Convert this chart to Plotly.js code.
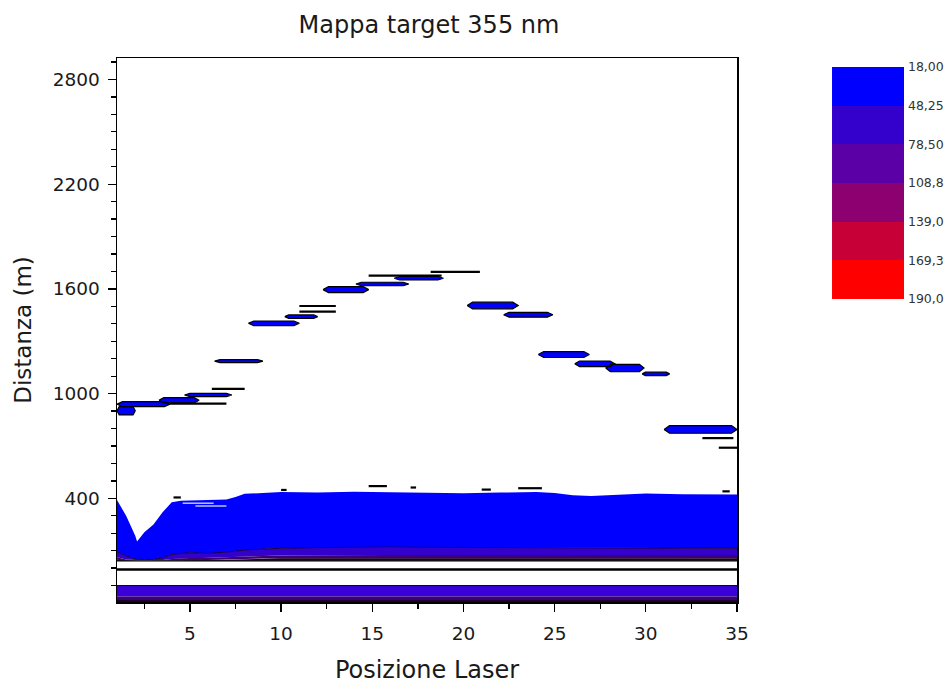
<!DOCTYPE html>
<html>
<head>
<meta charset="utf-8">
<script src="https://cdn.plot.ly/plotly-3.0.1.min.js"></script>
<style>html,body{margin:0;padding:0;background:#fff;}#chart{width:952px;height:685px;}</style>
</head>
<body>
<div id="chart"></div>
<script>
// ---------- colour levels (legend) ----------
const levels = [18.00, 48.25, 78.50, 108.75, 139.00, 169.25, 190.00];
const levelLabels = ['18,00', '48,25', '78,50', '108,8', '139,0', '169,3', '190,0'];
const levelColors = ['#0000FF', '#3300CC', '#5A00A6', '#8C0070', '#C80038', '#FF0000'];

// ---------- main echo region (distance in m vs laser position) ----------
const position    = [1, 1.5, 2, 2.1, 2.5, 3, 3.5, 4, 4.5, 5, 6, 7, 7.5, 8, 9, 10, 12, 14, 16, 18, 20, 22, 24, 25, 26, 27, 28, 30, 32, 35];
const blueTop     = [390, 300, 185, 152, 205, 250, 320, 378, 386, 388, 390, 394, 408, 426, 430, 436, 433, 437, 435, 432, 429, 433, 436, 430, 418, 414, 420, 428, 424, 422];
const blueBottom  = [94, 70, 52, 50, 50, 50, 58, 78, 85, 88, 84, 90, 97, 104, 110, 114, 118, 120, 120, 119, 118, 119, 118, 117, 115, 114, 114, 114, 114, 114];
const midBottom   = [62, 50, 46, 46, 46, 46, 47, 52, 56, 58, 60, 62, 64, 66, 70, 73, 75, 76, 76, 76, 76, 76, 75, 75, 75, 75, 75, 75, 75, 75];
const darkBottom  = [48, 45, 44, 44, 44, 44, 44, 45, 46, 46, 47, 48, 50, 52, 55, 56, 57, 57, 57, 57, 57, 57, 57, 56, 56, 56, 56, 56, 56, 56];
const groundLevel = 42;
const bandColors  = ['#0000FF', '#3300CC', '#3D0078', '#1E0024'];

// lower strata (below the ground line)
const lowerEdges  = [-100, -163, -183, -200];
const lowerColors = ['#3A00D8', '#3D0078', '#1A0028'];
const blackLines  = [-8, -100];
const blackWidths = [2.5, 1];

// ---------- floating echoes ----------
const echoStart = [1.0, 1.0, 3.3, 4.7, 6.35, 8.2, 10.2, 12.3, 14.1, 16.2, 20.2, 22.2, 24.1, 26.1, 27.8, 29.8, 31.0];
const echoEnd   = [2.0, 3.9, 5.5, 7.3, 9.0, 11.0, 12.0, 14.8, 17.0, 18.9, 23.0, 24.9, 26.9, 28.3, 29.9, 31.3, 35.0];
const echoDist  = [902, 940, 962, 992, 1186, 1403, 1441, 1596, 1628, 1661, 1505, 1452, 1224, 1171, 1147, 1113, 795];
const echoHalf  = [24, 14, 15, 9, 9, 13, 10, 17, 10, 10, 19, 14, 17, 16, 21, 10, 22];

const lineStart = [3.9, 6.2, 11.0, 11.0, 14.8, 18.2, 33.1, 34.0, 4.1, 10.0, 14.8, 17.1, 21.0, 23.0, 34.2];
const lineEnd   = [7.0, 8.0, 13.0, 13.0, 18.8, 20.9, 34.8, 35.0, 4.5, 10.3, 15.8, 17.4, 21.5, 24.3, 34.6];
const lineDist  = [943, 1027, 1502, 1470, 1676, 1697, 745, 690, 405, 448, 470, 462, 450, 458, 440];

const streakStart = [4.6, 5.3];
const streakEnd   = [6.3, 7.0];
const streakDist  = [372, 356];

// ---------- build traces ----------
function band(top, bottom, color) {
  return {
    type: 'scatter', mode: 'lines', x: position.concat(position.slice().reverse()),
    y: top.concat(bottom.slice().reverse()), fill: 'toself', fillcolor: color,
    line: {width: 0, color: color}, hoverinfo: 'skip', showlegend: false
  };
}
const traces = [];
const xMin = position[0], xMax = position[position.length - 1];
lowerEdges.slice(0, -1).forEach((e, i) => {
  traces.push({type: 'scatter', mode: 'lines', x: [xMin, xMax, xMax, xMin], y: [e, e, lowerEdges[i + 1], lowerEdges[i + 1]],
    fill: 'toself', fillcolor: lowerColors[i], line: {width: 0}, hoverinfo: 'skip', showlegend: false});
});
const groundArr = position.map(() => groundLevel);
traces.push(band(blueTop, blueBottom, bandColors[0]));
traces.push(band(blueBottom, midBottom, bandColors[1]));
traces.push(band(midBottom, darkBottom, bandColors[2]));
traces.push(band(darkBottom, groundArr, bandColors[3]));
traces.push({type: 'scatter', mode: 'lines', x: position, y: blueBottom, line: {color: '#1a0040', width: 1}, hoverinfo: 'skip', showlegend: false});
traces.push({type: 'scatter', mode: 'lines', x: position, y: groundArr, line: {color: '#000', width: 1.2}, hoverinfo: 'skip', showlegend: false});
blackLines.forEach((d, i) => {
  traces.push({type: 'scatter', mode: 'lines', x: [xMin, xMax], y: [d, d], line: {color: '#000', width: blackWidths[i]}, hoverinfo: 'skip', showlegend: false});
});

// echo polygons (lens shaped)
const ex = [], ey = [];
echoStart.forEach((s, i) => {
  const e = echoEnd[i], d = echoDist[i], h = echoHalf[i];
  const t = Math.min(0.3, (e - s) * 0.12);
  ex.push(s, s + t, e - t, e, e - t, s + t, s, null);
  ey.push(d, d + h, d + h, d, d - h, d - h, d, null);
});
traces.push({type: 'scatter', mode: 'lines', x: ex, y: ey, fill: 'toself', fillcolor: '#0000FF',
  line: {color: '#000', width: 1.2}, hoverinfo: 'skip', showlegend: false});

const lx = [], ly = [];
lineStart.forEach((s, i) => { lx.push(s, lineEnd[i], null); ly.push(lineDist[i], lineDist[i], null); });
traces.push({type: 'scatter', mode: 'lines', x: lx, y: ly, line: {color: '#000', width: 2.2}, hoverinfo: 'skip', showlegend: false});

const sx = [], sy = [];
streakStart.forEach((s, i) => { sx.push(s, streakEnd[i], null); sy.push(streakDist[i], streakDist[i], null); });
traces.push({type: 'scatter', mode: 'lines', x: sx, y: sy, line: {color: '#b8c4ff', width: 1.5}, hoverinfo: 'skip', showlegend: false});

// legend (colour key) as heatmap
const span = levels[levels.length - 1] - levels[0];
const cscale = [];
levelColors.forEach((c, i) => {
  cscale.push([(levels[i] - levels[0]) / span, c]);
  cscale.push([(levels[i + 1] - levels[0]) / span, c]);
});
const keyZ = levelColors.map((c, i) => [(levels[i] + levels[i + 1]) / 2]);
const keyY = levels.map((v, i) => i);
traces.push({type: 'heatmap', x: [0, 1], y: keyY, z: keyZ, colorscale: cscale, zmin: levels[0], zmax: levels[levels.length - 1],
  showscale: false, xaxis: 'x2', yaxis: 'y2', hoverinfo: 'skip'});

const FONT = 'DejaVu Sans, Arial, sans-serif';
const tickFont = {family: FONT, size: 18.5, color: '#1a1a1a'};
const layout = {
  width: 952, height: 685,
  margin: {l: 117, r: 40, t: 58, b: 83},
  paper_bgcolor: '#fff', plot_bgcolor: '#fff',
  showlegend: false,
  title: {text: 'Mappa target 355 nm', x: 0.4506, xref: 'container', xanchor: 'center', y: 0.9635, yref: 'container', yanchor: 'middle',
    font: {family: FONT, size: 24, color: '#1a1a1a'}},
  xaxis: {domain: [0, 0.7799], range: [1, 35], tick0: 0, dtick: 5, ticks: 'outside', ticklen: 8, tickwidth: 1.3, tickcolor: '#000',
    showline: true, linecolor: '#000', linewidth: 1.5, mirror: true, showgrid: false, zeroline: false,
    minor: {dtick: 2.5, ticks: 'outside', ticklen: 5, tickwidth: 1.3, tickcolor: '#000', showgrid: false},
    tickfont: tickFont, ticklabelstandoff: 6,
    title: {text: 'Posizione Laser', standoff: 18, font: {family: FONT, size: 24, color: '#1a1a1a'}}},
  yaxis: {range: [-194, 2923], tick0: 400, dtick: 600, ticks: 'outside', ticklen: 8, tickwidth: 1.3, tickcolor: '#000',
    showline: true, linecolor: '#000', linewidth: 1.5, mirror: true, showgrid: false, zeroline: false,
    minor: {dtick: 100, ticks: 'outside', ticklen: 5, tickwidth: 1.3, tickcolor: '#000', showgrid: false},
    tickfont: tickFont, ticklabelstandoff: 4,
    title: {text: 'Distanza (m)', standoff: 14, font: {family: FONT, size: 23, color: '#1a1a1a'}}},
  xaxis2: {domain: [0.8994, 0.9899], anchor: 'y2', range: [0, 1], showticklabels: false, ticks: '', showgrid: false, zeroline: false, showline: false},
  yaxis2: {domain: [0.5570, 0.9835], anchor: 'x2', side: 'right', range: [levels.length - 1, 0], tickvals: keyY, ticktext: levelLabels,
    ticks: '', showgrid: false, zeroline: false, showline: false, tickfont: {family: FONT, size: 12.5, color: '#333'}, ticklabelstandoff: 3}
};
Plotly.newPlot('chart', traces, layout, {staticPlot: true, displayModeBar: false});
</script>
</body>
</html>
